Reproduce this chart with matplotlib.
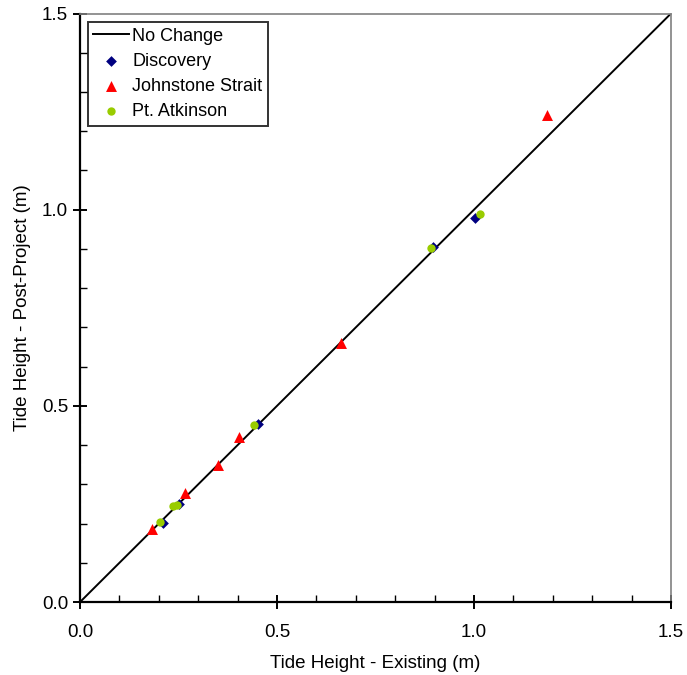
import matplotlib
matplotlib.use("Agg")
import matplotlib.pyplot as plt
from matplotlib.ticker import MultipleLocator, FormatStrFormatter

# data
no_change = [0.0, 1.5]

discovery_x = [0.210, 0.252, 0.451, 0.897, 1.003]
discovery_y = [0.201, 0.250, 0.454, 0.906, 0.979]

johnstone_x = [0.184, 0.266, 0.351, 0.404, 0.662, 1.185]
johnstone_y = [0.186, 0.278, 0.349, 0.421, 0.661, 1.242]

atkinson_x = [0.203, 0.237, 0.245, 0.442, 0.890, 1.014]
atkinson_y = [0.205, 0.245, 0.248, 0.452, 0.902, 0.990]

plt.rcParams['font.family'] = ['Liberation Sans', 'DejaVu Sans']

fig = plt.figure(figsize=(6.87, 6.75), dpi=100)
ax = fig.add_axes([0.1164, 0.108, 0.8603, 0.872])

ax.plot(no_change, no_change, color='black', lw=1.4, label='No Change', zorder=2)
ax.scatter(discovery_x, discovery_y, marker='D', s=30, color='#000080',
           label='Discovery', zorder=3, linewidths=0)
ax.scatter(johnstone_x, johnstone_y, marker='^', s=62, color='#FF0000',
           label='Johnstone Strait', zorder=3, linewidths=0)
ax.scatter(atkinson_x, atkinson_y, marker='o', s=36, color='#99CC00',
           label='Pt. Atkinson', zorder=4, linewidths=0)

ax.set_xlim(0, 1.5)
ax.set_ylim(0, 1.5)
ax.xaxis.set_major_locator(MultipleLocator(0.5))
ax.yaxis.set_major_locator(MultipleLocator(0.5))
ax.xaxis.set_minor_locator(MultipleLocator(0.1))
ax.yaxis.set_minor_locator(MultipleLocator(0.1))
ax.xaxis.set_major_formatter(FormatStrFormatter('%.1f'))
ax.yaxis.set_major_formatter(FormatStrFormatter('%.1f'))

ax.tick_params(which='major', direction='inout', length=10, width=1.4,
               labelsize=13.5)
ax.tick_params(axis='x', which='major', pad=11)
ax.tick_params(axis='y', which='major', pad=3.5)
ax.tick_params(which='minor', direction='in', length=5, width=1.0)

for side in ['left', 'bottom']:
    ax.spines[side].set_linewidth(1.6)
    ax.spines[side].set_color('black')
for side in ['top', 'right']:
    ax.spines[side].set_linewidth(1.2)
    ax.spines[side].set_color('#808080')

ax.set_xlabel('Tide Height - Existing (m)', fontsize=13.5, labelpad=10)
ax.set_ylabel('Tide Height - Post-Project (m)', fontsize=13.5, labelpad=7.5)

leg = ax.legend(loc='upper left', bbox_to_anchor=(0.0135, 0.985), fontsize=13,
                frameon=True, fancybox=False, handlelength=1.95,
                handletextpad=0.2, borderpad=0.3, labelspacing=0.45,
                borderaxespad=0, scatterpoints=1)
leg.get_frame().set_edgecolor('black')
leg.get_frame().set_linewidth(1.4)

fig.savefig('out.png', dpi=100)
